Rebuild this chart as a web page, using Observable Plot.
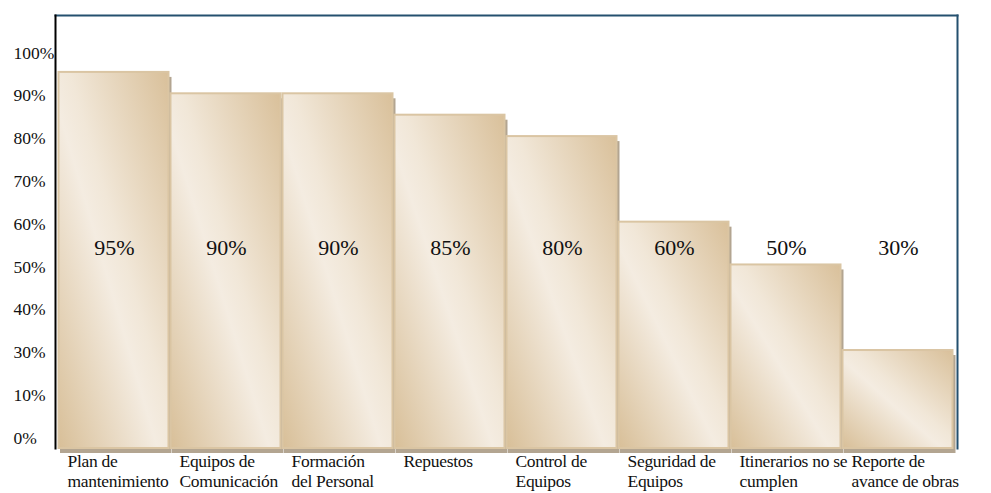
<!DOCTYPE html>
<html>
<head>
<meta charset="utf-8">
<script src="https://cdn.jsdelivr.net/npm/d3@7"></script>
<script src="https://cdn.jsdelivr.net/npm/@observablehq/plot@0.6"></script>
<style>
  html, body { margin: 0; padding: 0; background: #ffffff; }
  svg { overflow: visible; }
  svg text { font-family: "Liberation Serif", "Tinos", "Times New Roman", "DejaVu Serif", serif !important; }
  .cat-labels text { letter-spacing: -0.3px; }
</style>
</head>
<body>
<div id="chart"></div>
<script>
// ---- data ----
const categories = [
  "Plan de\nmantenimiento",
  "Equipos de\nComunicación",
  "Formación\ndel Personal",
  "Repuestos",
  "Control de\nEquipos",
  "Seguridad de\nEquipos",
  "Itinerarios no se\ncumplen",
  "Reporte de\navance de obras"
];
const values = [95, 90, 90, 85, 80, 60, 50, 30];
const valueLabels = ["95%", "90%", "90%", "85%", "80%", "60%", "50%", "30%"];
// y-axis tick positions and the (as printed) tick labels
const yTickValues = [10, 20, 30, 40, 50, 60, 70, 80, 90, 100];
const yTickLabels = ["0%", "10%", "30%", "40%", "50%", "60%", "70%", "80%", "90%", "100%"];
const yDomain = [7.1, 108.3];

const data = categories.map((c, i) => ({cat: c, value: values[i], label: valueLabels[i]}));
const ticks = yTickValues.map((v, i) => ({v, label: yTickLabels[i]}));

const font = "'Liberation Serif', 'Times New Roman', 'DejaVu Serif', serif";

const svg = Plot.plot({
  width: 991,
  height: 493,
  marginLeft: 55,
  marginRight: 34,
  marginTop: 15,
  marginBottom: 45,
  style: {background: "#ffffff", color: "#000", fontFamily: font},
  x: {domain: categories, padding: 0, axis: null},
  y: {domain: yDomain, axis: null},
  marks: [
    // frame lines
    Plot.frame({anchor: "top", stroke: "#24506f", strokeWidth: 2}),
    Plot.frame({anchor: "right", stroke: "#24506f", strokeWidth: 2}),
    Plot.frame({anchor: "left", stroke: "#000", strokeWidth: 2}),
    // shadows
    Plot.barY(data, {x: "cat", y1: yDomain[0], y2: "value", dx: 2, dy: 5, fill: "#b3a591", insetRight: 0.5}),
    // bars
    Plot.barY(data, {x: "cat", y1: yDomain[0], y2: "value", fill: "url(#barGrad)",
      stroke: "#dac5a3", strokeWidth: 2, insetRight: 1.5, insetLeft: 0.5}),
    // value labels
    Plot.text(data, {x: "cat", text: "label", frameAnchor: "middle", dy: 16,
      fontSize: 22, fill: "#111"}),
    // y tick labels
    Plot.text(ticks, {y: "v", text: "label", frameAnchor: "left", textAnchor: "start",
      dx: -42, dy: 2, fontSize: 17.5, fill: "#111"}),
    // category labels
    Plot.text(data, {x: "cat", text: "cat", frameAnchor: "bottom", lineAnchor: "top",
      textAnchor: "start", dx: -47, dy: 5, fontSize: 17.5, lineHeight: 1.12, fill: "#111",
      className: "cat-labels"})
  ]
});

d3.select(svg).insert("defs", ":first-child").html(`
  <linearGradient id="barGrad" x1="0" y1="1" x2="1" y2="0">
    <stop offset="0" stop-color="#d8bf98"/>
    <stop offset="0.45" stop-color="#f4ece1"/>
    <stop offset="0.55" stop-color="#f1e7d8"/>
    <stop offset="1" stop-color="#d9c09a"/>
  </linearGradient>`);

document.getElementById("chart").appendChild(svg);
</script>
</body>
</html>
